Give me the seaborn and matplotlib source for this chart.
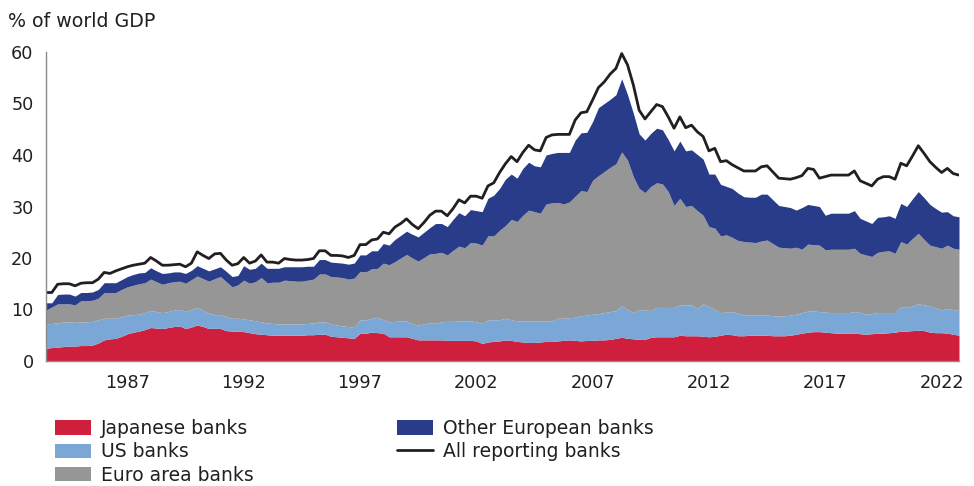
import numpy as np
import pandas as pd
import matplotlib
matplotlib.use("Agg")
import matplotlib.pyplot as plt
import seaborn as sns
from matplotlib.patches import Patch
from matplotlib.lines import Line2D

# Quarterly observations, 1984Q1 - 2023Q2 (% of world GDP)
quarters = pd.period_range("1984Q1", "2023Q2", freq="Q")

# Upper edge of each stacked band
japanese_top = [
    2.5, 2.6, 2.7, 2.8,  2.9, 2.9, 3.0, 3.0,  3.1, 3.5, 4.1, 4.3,  4.4, 4.8, 5.3, 5.6,
    5.8, 6.1, 6.5, 6.4,  6.3, 6.5, 6.7, 6.8,  6.3, 6.6, 7.0, 6.7,  6.3, 6.4, 6.3, 5.9,
    5.8, 5.8, 5.7, 5.5,  5.3, 5.2, 5.1, 5.0,  5.0, 5.0, 5.0, 5.0,  5.0, 5.1, 5.1, 5.2,
    5.2, 4.8, 4.7, 4.6,  4.5, 4.4, 5.4, 5.4,  5.6, 5.5, 5.4, 4.7,  4.7, 4.7, 4.7, 4.4,
    4.1, 4.1, 4.1, 4.1,  4.1, 4.0, 4.0, 4.0,  4.0, 4.0, 3.9, 3.4,  3.7, 3.8, 3.9, 4.1,
    4.0, 3.8, 3.7, 3.6,  3.6, 3.7, 3.8, 3.8,  3.9, 4.0, 4.1, 4.0,  3.9, 4.0, 4.0, 4.1,
    4.1, 4.2, 4.4, 4.6,  4.4, 4.3, 4.2, 4.2,  4.6, 4.7, 4.7, 4.7,  4.7, 5.0, 4.9, 4.9,
    4.9, 4.8, 4.7, 4.8,  5.0, 5.2, 5.1, 4.9,  4.9, 5.0, 5.0, 5.0,  5.0, 4.9, 4.9, 4.9,
    5.0, 5.2, 5.4, 5.6,  5.7, 5.7, 5.6, 5.5,  5.4, 5.4, 5.4, 5.4,  5.3, 5.2, 5.3, 5.4,
    5.4, 5.5, 5.6, 5.8,  5.8, 5.9, 6.0, 5.9,  5.6, 5.5, 5.5, 5.4,  5.2, 5.0,
]
us_top = [
    7.2, 7.3, 7.4, 7.6,  7.6, 7.5, 7.6, 7.6,  7.7, 8.0, 8.3, 8.3,  8.3, 8.6, 8.9, 9.0,
    9.1, 9.4, 9.8, 9.6,  9.4, 9.6, 9.9, 10.0,  9.6, 10.0, 10.4, 9.8,  9.3, 9.0, 9.0, 8.6,
    8.3, 8.3, 8.2, 8.0,  7.8, 7.6, 7.4, 7.3,  7.2, 7.2, 7.2, 7.2,  7.2, 7.3, 7.4, 7.6,
    7.6, 7.2, 7.0, 6.8,  6.7, 6.5, 8.0, 8.0,  8.3, 8.5, 8.0, 7.6,  7.7, 7.8, 7.8, 7.2,
    7.0, 7.2, 7.4, 7.3,  7.6, 7.7, 7.7, 7.8,  7.8, 7.8, 7.6, 7.3,  8.0, 8.0, 8.0, 8.3,
    8.0, 7.8, 7.8, 7.8,  7.8, 7.8, 7.8, 7.8,  8.3, 8.3, 8.4, 8.5,  8.8, 8.9, 9.1, 9.2,
    9.4, 9.6, 9.8, 10.7,  10.0, 9.4, 10.0, 9.9,  9.8, 10.4, 10.4, 10.4,  10.4, 10.9, 10.9, 10.9,
    10.2, 11.1, 10.6, 10.0,  9.4, 9.5, 9.6, 9.3,  8.9, 8.9, 8.9, 8.9,  8.9, 8.8, 8.7, 8.8,
    8.9, 9.1, 9.4, 9.7,  9.7, 9.6, 9.5, 9.4,  9.4, 9.4, 9.4, 9.6,  9.4, 9.1, 9.2, 9.4,
    9.4, 9.4, 9.4, 10.6,  10.4, 10.7, 11.1, 10.9,  10.7, 10.3, 9.9, 10.2,  10.0, 9.8,
]
euro_top = [
    9.9, 10.5, 11.1, 11.1,  11.1, 10.9, 11.7, 11.7,  11.8, 12.2, 13.3, 13.3,  13.3, 13.9, 14.4, 14.7,
    15.0, 15.2, 15.9, 15.4,  14.9, 15.2, 15.4, 15.5,  15.1, 15.8, 16.5, 16.0,  15.5, 16.0, 16.4, 15.4,
    14.4, 14.8, 15.7, 15.1,  15.4, 16.2, 15.2, 15.3,  15.3, 15.7, 15.6, 15.5,  15.5, 15.7, 15.9, 16.9,
    16.9, 16.4, 16.3, 16.2,  15.9, 16.1, 17.4, 17.3,  17.9, 18.0, 19.0, 18.7,  19.3, 20.0, 20.7, 20.0,
    19.4, 20.1, 20.8, 20.9,  21.1, 20.6, 21.5, 22.3,  22.0, 23.0, 22.9, 22.5,  24.3, 24.3, 25.4, 26.3,
    27.5, 27.1, 28.3, 29.3,  29.0, 28.7, 30.5, 30.7,  30.8, 30.5, 30.9, 32.0,  33.1, 32.9, 35.1, 36.0,
    36.8, 37.6, 38.3, 40.6,  39.0, 35.8, 33.5, 32.7,  33.9, 34.6, 34.4, 32.9,  30.2, 31.6, 30.0, 30.2,
    29.2, 28.3, 26.1, 25.8,  24.3, 24.5, 24.0, 23.4,  23.2, 23.1, 23.0, 23.3,  23.5, 22.8, 22.1, 22.0,
    21.9, 22.1, 21.7, 22.7,  22.6, 22.5, 21.6, 21.7,  21.7, 21.7, 21.7, 21.9,  20.9, 20.6, 20.3, 21.1,
    21.3, 21.4, 20.9, 23.2,  22.7, 23.8, 24.8, 23.6,  22.5, 22.2, 21.9, 22.5,  21.9, 21.7,
]
other_european_top = [
    11.3, 11.3, 12.9, 13.0,  13.0, 12.6, 13.3, 13.3,  13.4, 13.9, 15.2, 15.2,  15.2, 15.8, 16.4, 16.8,
    17.1, 17.2, 18.1, 17.5,  17.0, 17.1, 17.3, 17.3,  17.0, 17.6, 18.5, 18.0,  17.5, 17.9, 18.3, 17.4,
    16.4, 16.6, 18.5, 17.8,  18.0, 19.0, 18.0, 18.0,  18.0, 18.3, 18.3, 18.3,  18.3, 18.4, 18.4, 19.7,
    19.7, 19.2, 19.1, 19.0,  18.8, 19.0, 20.6, 20.6,  21.4, 21.4, 22.8, 22.5,  23.6, 24.4, 25.2, 24.6,
    24.1, 25.0, 25.9, 26.7,  26.7, 26.1, 27.5, 28.8,  28.2, 29.4, 29.2, 29.0,  31.6, 32.2, 33.5, 35.3,
    36.3, 35.5, 37.4, 38.6,  37.9, 37.7, 40.0, 40.3,  40.5, 40.5, 40.5, 42.9,  44.3, 44.4, 46.5, 49.2,
    50.0, 50.8, 51.7, 54.8,  51.7, 48.1, 44.1, 42.9,  44.2, 45.2, 44.9, 43.0,  40.8, 42.7, 40.8, 41.0,
    40.1, 39.2, 36.3, 36.3,  34.3, 33.9, 33.5, 32.6,  31.9, 31.8, 31.8, 32.4,  32.4, 31.3, 30.2, 30.0,
    29.8, 29.3, 29.8, 30.4,  30.2, 30.0, 28.3, 28.7,  28.7, 28.7, 28.7, 29.2,  27.7, 27.2, 26.7, 27.9,
    28.0, 28.2, 27.7, 30.6,  30.0, 31.5, 32.9, 31.7,  30.4, 29.6, 28.9, 29.0,  28.2, 28.0,
]
all_reporting = [
    13.3, 13.3, 14.9, 15.0,  15.0, 14.6, 15.1, 15.2,  15.2, 15.9, 17.2, 17.0,  17.5, 17.9, 18.3, 18.6,
    18.8, 19.0, 20.1, 19.4,  18.6, 18.6, 18.7, 18.8,  18.3, 19.0, 21.2, 20.5,  19.9, 20.8, 20.9, 19.6,
    18.6, 18.9, 20.1, 19.0,  19.4, 20.6, 19.2, 19.2,  19.0, 19.9, 19.7, 19.6,  19.6, 19.7, 19.9, 21.4,
    21.4, 20.5, 20.5, 20.4,  20.1, 20.5, 22.6, 22.6,  23.5, 23.7, 25.0, 24.7,  26.0, 26.7, 27.6, 26.5,
    25.7, 26.9, 28.3, 29.1,  29.1, 28.2, 29.6, 31.3,  30.7, 32.0, 32.0, 31.6,  34.0, 34.6, 36.6, 38.3,
    39.7, 38.7, 40.5, 41.9,  41.0, 40.8, 43.4, 43.9,  44.0, 44.0, 44.0, 46.8,  48.2, 48.4, 50.7, 53.1,
    54.2, 55.7, 56.8, 59.7,  57.5, 53.6, 48.7, 47.0,  48.4, 49.8, 49.4, 47.4,  45.2, 47.4, 45.3, 45.8,
    44.5, 43.6, 40.8, 41.3,  38.7, 38.9, 38.1, 37.5,  36.9, 36.9, 36.9, 37.7,  37.9, 36.7, 35.5, 35.4,
    35.3, 35.6, 36.0, 37.4,  37.2, 35.5, 35.8, 36.1,  36.1, 36.1, 36.1, 36.9,  35.0, 34.5, 34.0, 35.3,
    35.8, 35.8, 35.3, 38.4,  37.9, 39.8, 41.8, 40.3,  38.7, 37.6, 36.6, 37.4,  36.4, 36.1,
]

band_labels = ["Japanese banks", "US banks", "Euro area banks", "Other European banks"]
band_colors = ["#d01f3c", "#7ba7d7", "#959695", "#283c89"]
total_label = "All reporting banks"
year_labels = [1987, 1992, 1997, 2002, 2007, 2012, 2017, 2022]
y_ticks = [0, 10, 20, 30, 40, 50, 60]

sns.set_style("white")
plt.rcParams["font.family"] = ["DejaVu Sans"]
plt.rcParams["text.color"] = "#231f20"

x = quarters.year + (quarters.quarter - 1) / 4.0
tops = [np.array(t) for t in (japanese_top, us_top, euro_top, other_european_top)]

fig = plt.figure(figsize=(9.74, 4.86), dpi=100)
ax = fig.add_axes([46 / 974, 1 - 361 / 486, 913 / 974, 309 / 486])

lower = np.zeros(len(x))
for top, col in zip(tops, band_colors):
    ax.fill_between(x, lower, top, color=col, linewidth=0)
    lower = top

df = pd.DataFrame({"date": x, "value": all_reporting})
sns.lineplot(data=df, x="date", y="value", color="#231f20", linewidth=2.0, ax=ax, legend=False)
if ax.get_legend() is not None:
    ax.get_legend().remove()

ax.set_xlim(1984, 2023.25)
ax.set_ylim(0, 60)
ax.set_xlabel("")
ax.set_ylabel("")

ax.set_yticks(y_ticks)
ax.set_yticklabels([str(v) for v in y_ticks])
ax.tick_params(axis="y", length=0, pad=9, labelsize=12.7, labelcolor="#231f20")

ax.set_xticks([yr + 1 for yr in year_labels])
ax.set_xticklabels([])
ax.set_xticks([yr + 0.5 for yr in year_labels], minor=True)
ax.set_xticklabels([str(yr) for yr in year_labels], minor=True)
ax.tick_params(axis="x", which="major", length=4, width=1, color="#8a8a8a", direction="out")
ax.tick_params(axis="x", which="minor", length=0, pad=9.5, labelsize=12.7, labelcolor="#231f20")

for s in ("top", "right"):
    ax.spines[s].set_visible(False)
for s in ("left", "bottom"):
    ax.spines[s].set_color("#8a8a8a")
    ax.spines[s].set_linewidth(1.0)

fig.text(8 / 974, 1 - 26.7 / 486, "% of world GDP", fontsize=13.7,
         ha="left", va="baseline", color="#231f20")

handles = [Patch(facecolor=c, edgecolor="none", label=l) for c, l in zip(band_colors, band_labels)]
handles.append(Line2D([], [], color="#231f20", linewidth=2.0, label=total_label))
fig.legend(handles=handles, loc="upper left", bbox_to_anchor=(55 / 974, 1 - 419 / 486),
           ncol=2, frameon=False, fontsize=13.5, handlelength=1.92, handleheight=0.8,
           handletextpad=0.55, labelspacing=0.23, columnspacing=7.6,
           borderpad=0, borderaxespad=0)

fig.savefig("out.png", dpi=100)
